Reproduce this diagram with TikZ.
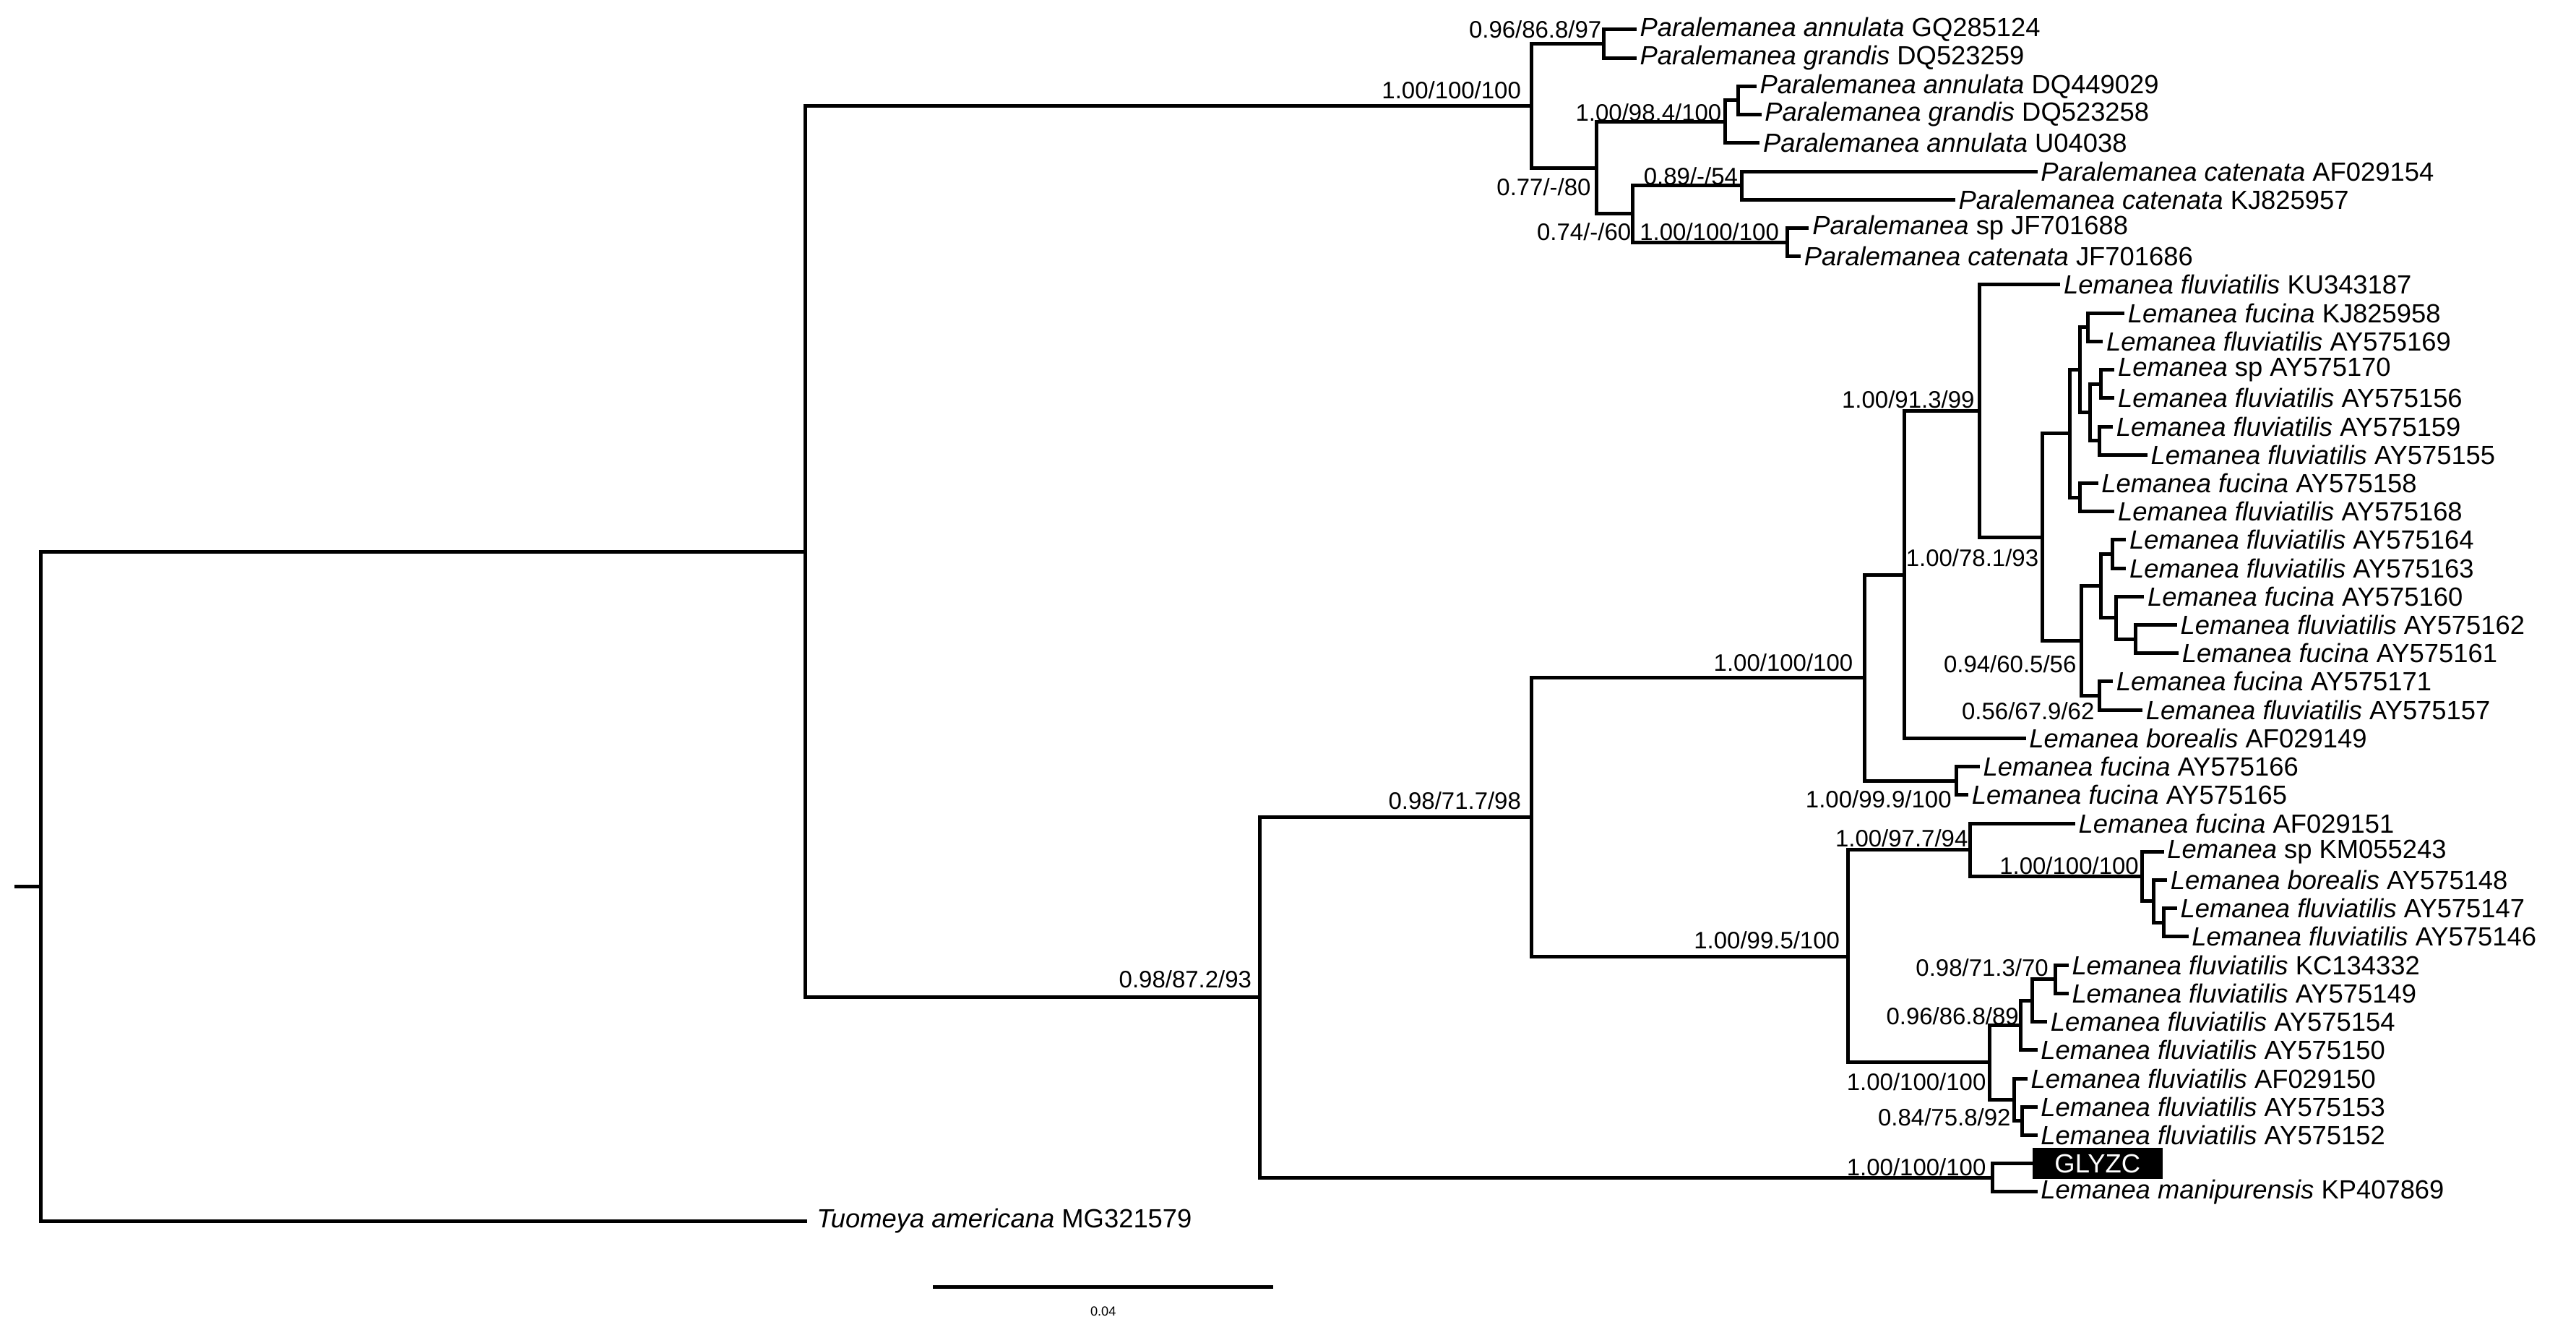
\documentclass[tikz,border=0pt]{standalone}
\usepackage{fontspec}
\setmainfont{Liberation Sans}
\begin{document}
\begin{tikzpicture}[x=1pt,y=-1pt,
  br/.style={line width=2.2pt,line cap=rect,line join=miter},
  tip/.style={anchor=west,inner sep=0pt,font=\fontsize{16}{16}\selectfont},
  sup/.style={anchor=east,inner sep=0pt,font=\fontsize{14.5}{14.5}\selectfont}]
\useasboundingbox[fill=white] (0,0) rectangle (1568,809);
\newcommand{\tl}[2]{\textit{#1} #2}
% coordinates
\coordinate (R0) at (10,539.3);
\coordinate (R) at (25,539.3);
\coordinate (I) at (490,335.6);
\coordinate (Tu) at (490,743);
\coordinate (P) at (932,64.4);
\coordinate (LL) at (767,606.9);
\coordinate (A) at (976,26.6);
\coordinate (t0) at (995,18);
\coordinate (t1) at (995,35.25);
\coordinate (B) at (972,102.1);
\coordinate (C) at (1050,74.1);
\coordinate (Ci) at (1058,61.1);
\coordinate (t2) at (1068,52.5);
\coordinate (t3) at (1071,69.75);
\coordinate (t4) at (1070,87);
\coordinate (D) at (994,130.1);
\coordinate (E) at (1060,112.9);
\coordinate (t5) at (1239,104.25);
\coordinate (t6) at (1189,121.5);
\coordinate (F) at (1088,147.4);
\coordinate (t7) at (1100,138.75);
\coordinate (t8) at (1095,156);
\coordinate (L0) at (932,497.1);
\coordinate (L40) at (1213,716.6);
\coordinate (t40) at (1237,708);
\coordinate (t41) at (1239,725.25);
\coordinate (L1) at (1135,412.4);
\coordinate (L20) at (1125,581.9);
\coordinate (L2) at (1159,349.7);
\coordinate (L3) at (1191,475.1);
\coordinate (t26) at (1204,466.5);
\coordinate (t27) at (1197,483.75);
\coordinate (L4) at (1205,250.1);
\coordinate (t25) at (1232,449.25);
\coordinate (t9) at (1253,173.25);
\coordinate (L5) at (1243,326.9);
\coordinate (L6) at (1260,263.8);
\coordinate (L7) at (1267,389.9);
\coordinate (L8) at (1266,225);
\coordinate (L9) at (1266,302.6);
\coordinate (t16) at (1276,294);
\coordinate (t17) at (1286,311.25);
\coordinate (L10) at (1271,199.1);
\coordinate (t10) at (1292,190.5);
\coordinate (t11) at (1279,207.75);
\coordinate (L11) at (1272,250.9);
\coordinate (L12) at (1279,233.6);
\coordinate (t12) at (1286,225);
\coordinate (t13) at (1286,242.25);
\coordinate (L13) at (1278,268.1);
\coordinate (t14) at (1285,259.5);
\coordinate (t15) at (1306,276.75);
\coordinate (L14) at (1279,356.5);
\coordinate (L16) at (1286,337.1);
\coordinate (t18) at (1293,328.5);
\coordinate (t19) at (1293,345.75);
\coordinate (L17) at (1288,375.9);
\coordinate (t20) at (1304,363);
\coordinate (L18) at (1300,388.9);
\coordinate (t21) at (1324,380.25);
\coordinate (t22) at (1325,397.5);
\coordinate (L15) at (1278,423.4);
\coordinate (t23) at (1285,414.75);
\coordinate (t24) at (1303,432);
\coordinate (L21) at (1199,517.2);
\coordinate (t28) at (1262,501);
\coordinate (L23) at (1304,533.3);
\coordinate (t29) at (1316,518.25);
\coordinate (L24) at (1311,548.4);
\coordinate (t30) at (1318,535.5);
\coordinate (L25) at (1317,561.4);
\coordinate (t31) at (1324,552.75);
\coordinate (t32) at (1331,570);
\coordinate (L22) at (1211,646.5);
\coordinate (L26) at (1230,623.9);
\coordinate (L29) at (1237,608.8);
\coordinate (L30) at (1251,595.9);
\coordinate (t33) at (1258,587.25);
\coordinate (t34) at (1258,604.5);
\coordinate (t35) at (1245,621.75);
\coordinate (t36) at (1239,639);
\coordinate (L27) at (1226,669.2);
\coordinate (t37) at (1233,656.25);
\coordinate (L31) at (1231,682.1);
\coordinate (t38) at (1239,673.5);
\coordinate (t39) at (1239,690.75);
% branches
\draw[br] (R0) -- (R);
\foreach \p/\c in {R/I,R/Tu,I/P,I/LL,P/A,P/B,A/t0,A/t1,B/C,B/D,C/Ci,C/t4,Ci/t2,Ci/t3,
  D/E,D/F,E/t5,E/t6,F/t7,F/t8,LL/L0,LL/L40,L40/t40,L40/t41,L0/L1,L0/L20,L1/L2,L1/L3,
  L3/t26,L3/t27,L2/L4,L2/t25,L4/t9,L4/L5,L5/L6,L5/L7,L6/L8,L6/L9,L9/t16,L9/t17,
  L8/L10,L8/L11,L10/t10,L10/t11,L11/L12,L11/L13,L12/t12,L12/t13,L13/t14,L13/t15,
  L7/L14,L7/L15,L14/L16,L14/L17,L16/t18,L16/t19,L17/t20,L17/L18,L18/t21,L18/t22,
  L15/t23,L15/t24,L20/L21,L20/L22,L21/t28,L21/L23,L23/t29,L23/L24,L24/t30,L24/L25,
  L25/t31,L25/t32,L22/L26,L22/L27,L26/L29,L26/t36,L29/L30,L29/t35,L30/t33,L30/t34,
  L27/t37,L27/L31,L31/t38,L31/t39}
  \draw[br] (\p) |- (\c);
% tip labels
\node[tip,xshift=3pt] (n0) at (t0) {\tl{Paralemanea annulata}{GQ285124}};
\node[tip,xshift=3pt] (n1) at (t1) {\tl{Paralemanea grandis}{DQ523259}};
\node[tip,xshift=3pt] (n2) at (t2) {\tl{Paralemanea annulata}{DQ449029}};
\node[tip,xshift=3pt] (n3) at (t3) {\tl{Paralemanea grandis}{DQ523258}};
\node[tip,xshift=3pt] (n4) at (t4) {\tl{Paralemanea annulata}{U04038}};
\node[tip,xshift=3pt] (n5) at (t5) {\tl{Paralemanea catenata}{AF029154}};
\node[tip,xshift=3pt] (n6) at (t6) {\tl{Paralemanea catenata}{KJ825957}};
\node[tip,xshift=3pt] (n7) at (t7) {\tl{Paralemanea}{sp JF701688}};
\node[tip,xshift=3pt] (n8) at (t8) {\tl{Paralemanea catenata}{JF701686}};
\node[tip,xshift=3pt] (n9) at (t9) {\tl{Lemanea fluviatilis}{KU343187}};
\node[tip,xshift=3pt] (n10) at (t10) {\tl{Lemanea fucina}{KJ825958}};
\node[tip,xshift=3pt] (n11) at (t11) {\tl{Lemanea fluviatilis}{AY575169}};
\node[tip,xshift=3pt] (n12) at (t12) {\tl{Lemanea}{sp AY575170}};
\node[tip,xshift=3pt] (n13) at (t13) {\tl{Lemanea fluviatilis}{AY575156}};
\node[tip,xshift=3pt] (n14) at (t14) {\tl{Lemanea fluviatilis}{AY575159}};
\node[tip,xshift=3pt] (n15) at (t15) {\tl{Lemanea fluviatilis}{AY575155}};
\node[tip,xshift=3pt] (n16) at (t16) {\tl{Lemanea fucina}{AY575158}};
\node[tip,xshift=3pt] (n17) at (t17) {\tl{Lemanea fluviatilis}{AY575168}};
\node[tip,xshift=3pt] (n18) at (t18) {\tl{Lemanea fluviatilis}{AY575164}};
\node[tip,xshift=3pt] (n19) at (t19) {\tl{Lemanea fluviatilis}{AY575163}};
\node[tip,xshift=3pt] (n20) at (t20) {\tl{Lemanea fucina}{AY575160}};
\node[tip,xshift=3pt] (n21) at (t21) {\tl{Lemanea fluviatilis}{AY575162}};
\node[tip,xshift=3pt] (n22) at (t22) {\tl{Lemanea fucina}{AY575161}};
\node[tip,xshift=3pt] (n23) at (t23) {\tl{Lemanea fucina}{AY575171}};
\node[tip,xshift=3pt] (n24) at (t24) {\tl{Lemanea fluviatilis}{AY575157}};
\node[tip,xshift=3pt] (n25) at (t25) {\tl{Lemanea borealis}{AF029149}};
\node[tip,xshift=3pt] (n26) at (t26) {\tl{Lemanea fucina}{AY575166}};
\node[tip,xshift=3pt] (n27) at (t27) {\tl{Lemanea fucina}{AY575165}};
\node[tip,xshift=3pt] (n28) at (t28) {\tl{Lemanea fucina}{AF029151}};
\node[tip,xshift=3pt] (n29) at (t29) {\tl{Lemanea}{sp KM055243}};
\node[tip,xshift=3pt] (n30) at (t30) {\tl{Lemanea borealis}{AY575148}};
\node[tip,xshift=3pt] (n31) at (t31) {\tl{Lemanea fluviatilis}{AY575147}};
\node[tip,xshift=3pt] (n32) at (t32) {\tl{Lemanea fluviatilis}{AY575146}};
\node[tip,xshift=3pt] (n33) at (t33) {\tl{Lemanea fluviatilis}{KC134332}};
\node[tip,xshift=3pt] (n34) at (t34) {\tl{Lemanea fluviatilis}{AY575149}};
\node[tip,xshift=3pt] (n35) at (t35) {\tl{Lemanea fluviatilis}{AY575154}};
\node[tip,xshift=3pt] (n36) at (t36) {\tl{Lemanea fluviatilis}{AY575150}};
\node[tip,xshift=3pt] (n37) at (t37) {\tl{Lemanea fluviatilis}{AF029150}};
\node[tip,xshift=3pt] (n38) at (t38) {\tl{Lemanea fluviatilis}{AY575153}};
\node[tip,xshift=3pt] (n39) at (t39) {\tl{Lemanea fluviatilis}{AY575152}};
\node[anchor=west,fill=black,text=white,minimum width=79pt,minimum height=19pt,inner sep=0pt,
  font=\fontsize{16}{16}\selectfont] (n40) at (t40) {GLYZC};
\node[tip,xshift=3pt] (n41) at (t41) {\tl{Lemanea manipurensis}{KP407869}};
\node[tip,xshift=7pt] (nTu) at (Tu) {\tl{Tuomeya americana}{MG321579}};
% support labels
\node[sup] (s1) at (926,55) {1.00/100/100};
\node[sup] (s2) at (975,18) {0.96/86.8/97};
\node[sup] (s3) at (1048,68.7) {1.00/98.4/100};
\node[sup] (s4) at (968.5,114) {0.77/-/80};
\node[sup] (s5) at (993,141) {0.74/-/60};
\node[sup] (s6) at (1058,107) {0.89/-/54};
\node[sup] (s7) at (1083,141) {1.00/100/100};
\node[sup] (s8) at (762,596) {0.98/87.2/93};
\node[sup] (s9) at (926,487) {0.98/71.7/98};
\node[sup] (s10) at (1128,403) {1.00/100/100};
\node[sup] (s11) at (1120,572) {1.00/99.5/100};
\node[sup] (s12) at (1202,243) {1.00/91.3/99};
\node[sup] (s13) at (1241,339.2) {1.00/78.1/93};
\node[sup] (s14) at (1264,404) {0.94/60.5/56};
\node[sup] (s15) at (1275,432.5) {0.56/67.9/62};
\node[sup] (s16) at (1188,486.5) {1.00/99.9/100};
\node[sup] (s17) at (1198,510.1) {1.00/97.7/94};
\node[sup] (s18) at (1302,526.8) {1.00/100/100};
\node[sup] (s19) at (1247,588.6) {0.98/71.3/70};
\node[sup] (s20) at (1229,618.1) {0.96/86.8/89};
\node[sup] (s21) at (1209,658.3) {1.00/100/100};
\node[sup] (s22) at (1224,679.9) {0.84/75.8/92};
\node[sup] (s23) at (1209,710.3) {1.00/100/100};
% scale bar
\coordinate (sb1) at (568,783);
\coordinate (sb2) at (775,783);
\draw[br,line cap=butt] (sb1) -- (sb2);
\node[font=\fontsize{8}{8}\selectfont,inner sep=0pt] (sbl) at (671.5,798) {0.04};
\end{tikzpicture}
\end{document}
